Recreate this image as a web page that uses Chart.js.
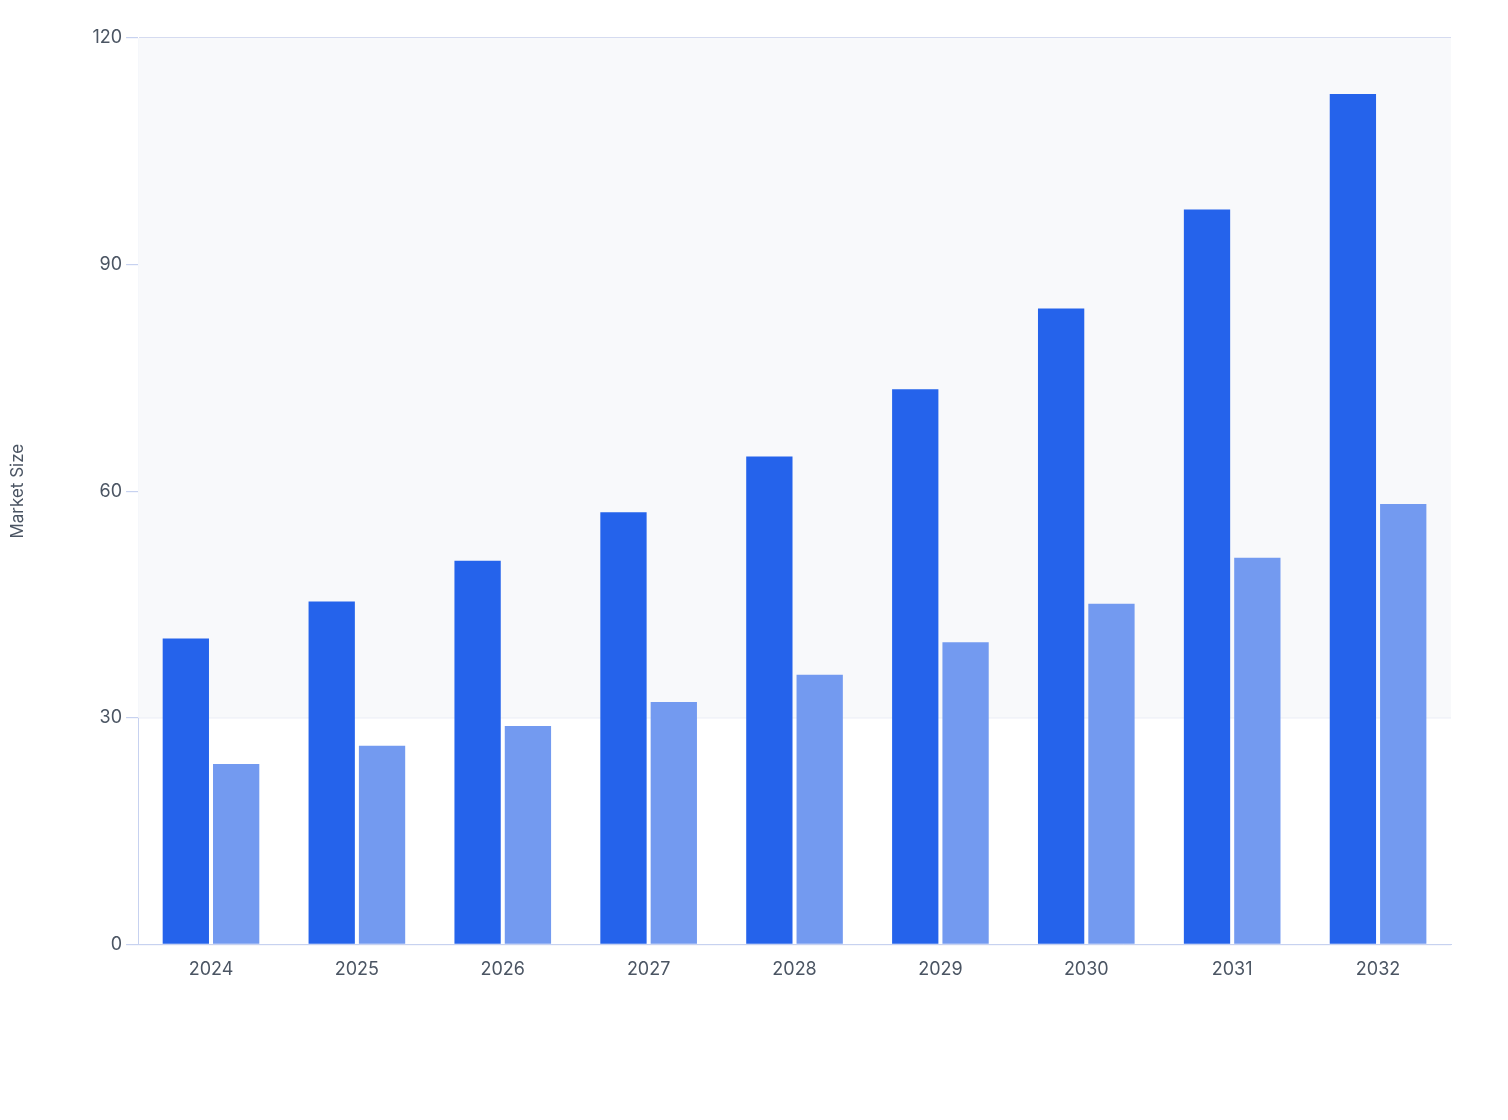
<!DOCTYPE html>
<html>
<head>
<meta charset="utf-8">
<script src="https://cdn.jsdelivr.net/npm/chart.js@4.4.1/dist/chart.umd.min.js"></script>
<style>
  html, body { margin: 0; padding: 0; background: #fff; }
  #wrap { width: 1508px; height: 1120px; }
</style>
</head>
<body>
<div id="wrap"><canvas id="chart"></canvas></div>
<script>
var years = ['2024', '2025', '2026', '2027', '2028', '2029', '2030', '2031', '2032'];
var seriesA = [40.5, 45.4, 50.8, 57.2, 64.6, 73.5, 84.2, 97.3, 112.6];
var seriesB = [23.9, 26.3, 28.9, 32.1, 35.7, 40.0, 45.1, 51.2, 58.3];
var yTicks = [0, 30, 60, 90, 120];

// light band behind the upper part of the plot
var bandPlugin = {
    id: 'band',
    beforeDatasetsDraw: function (chart) {
        var ctx = chart.ctx, area = chart.chartArea, y = chart.scales.y;
        ctx.save();
        ctx.fillStyle = '#f8f9fb';
        var top = y.getPixelForValue(120), bot = y.getPixelForValue(30);
        ctx.fillRect(area.left, top, area.right - area.left, bot - top);
        ctx.restore();
    }
};

Chart.defaults.font.family = 'Inter, "Noto Sans", sans-serif';
new Chart(document.getElementById('chart'), {
    type: 'bar',
    data: {
        labels: years,
        datasets: [
            { label: 'Market Size', data: seriesA, backgroundColor: '#2563eb' },
            { label: 'Segment', data: seriesB, backgroundColor: '#739af0' }
        ]
    },
    options: {
        responsive: true,
        maintainAspectRatio: false,
        animation: false,
        categoryPercentage: 0.69,
        barPercentage: 0.92,
        layout: { padding: { left: 4, right: 57, top: 38, bottom: 134 } },
        plugins: { legend: { display: false }, tooltip: { enabled: false } },
        scales: {
            x: {
                grid: { display: false, drawTicks: true },
                border: { color: '#c7d2f0' },
                ticks: { color: '#4b5563', font: { size: 18 }, padding: 6 }
            },
            y: {
                min: 0,
                max: 120,
                afterBuildTicks: function (axis) {
                    axis.ticks = yTicks.map(function (v) { return { value: v }; });
                },
                grid: { color: '#d5dbf0', tickColor: '#c7d2f0', tickLength: 12, lineWidth: 1.2 },
                border: { color: '#c7d2f0', dash: [] },
                ticks: { color: '#4b5563', font: { size: 18 }, padding: 4 },
                title: { display: true, text: 'Market Size', color: '#4b5563', font: { size: 17 }, padding: { bottom: 60 } }
            }
        }
    },
    plugins: [bandPlugin]
});
// dashed grid lines
Chart.defaults.scale.grid.borderDash = [6, 6];
</script>
</body>
</html>
